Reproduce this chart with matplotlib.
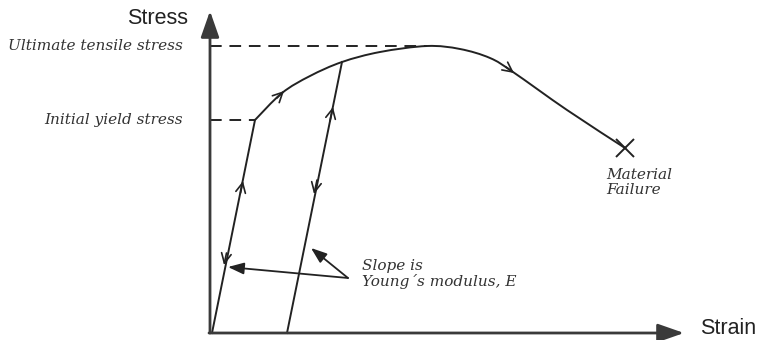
import matplotlib.pyplot as plt
from matplotlib.path import Path
from matplotlib.patches import PathPatch

# Stress-strain schematic, units are arbitrary (strain, stress)
curve_strain = [45, 72, 100, 132, 170, 217, 250, 280, 303, 357, 415]
curve_stress = [213, 240, 257, 271, 281, 287, 284, 275, 261, 223, 185]

elastic_strain = [2, 45]
elastic_stress = [0, 213]
unload_strain = [132, 77]
unload_stress = [271, 0]

uts = 287
yield_stress = 213
failure = (415, 185)

ink = "#222222"
axis_col = "#3a3a3a"
label_font = dict(family="DejaVu Serif", style="italic", size=11, color="#333333")

fig = plt.figure(figsize=(7.69, 3.40), dpi=100)
ax = fig.add_axes([0, 0, 1, 1])
ax.set_xlim(-210, 559)
ax.set_ylim(-7, 333)
ax.axis("off")

# axes with arrow heads
head = "-|>,head_length=0.8,head_width=0.28"
ax.annotate("", xy=(0, 322), xytext=(0, 0),
            arrowprops=dict(arrowstyle=head, mutation_scale=20, lw=2, color=axis_col, shrinkA=0, shrinkB=0))
ax.annotate("", xy=(474, 0), xytext=(-1, 0),
            arrowprops=dict(arrowstyle=head, mutation_scale=20, lw=2, color=axis_col, shrinkA=0, shrinkB=0))
ax.text(-22, 315, "Stress", ha="right", va="center", fontsize=15.5, family="Liberation Sans", color="#222222")
ax.text(490, 5, "Strain", ha="left", va="center", fontsize=15.5, family="Liberation Sans", color="#222222")

# reference stress levels
ax.plot([0, curve_strain[5]], [uts, uts], ls=(0, (6, 4)), lw=1.4, color=ink)
ax.plot([0, elastic_strain[1]], [yield_stress, yield_stress], ls=(0, (6, 4)), lw=1.4, color=ink)
ax.text(-27, uts, "Ultimate tensile stress", ha="right", va="center", **label_font)
ax.text(-27, yield_stress, "Initial yield stress", ha="right", va="center", **label_font)

# loading path and unloading line
ax.plot(elastic_strain, elastic_stress, lw=1.4, color=ink)
ax.plot(unload_strain, unload_stress, lw=1.4, color=ink)

# hardening/softening curve as a smooth Catmull-Rom spline through the points
pts = list(zip(curve_strain, curve_stress))
verts = [pts[0]]
codes = [Path.MOVETO]
for i in range(len(pts) - 1):
    p0 = pts[max(i - 1, 0)]
    p1, p2 = pts[i], pts[i + 1]
    p3 = pts[min(i + 2, len(pts) - 1)]
    c1 = (p1[0] + (p2[0] - p0[0]) / 6, p1[1] + (p2[1] - p0[1]) / 6)
    c2 = (p2[0] - (p3[0] - p1[0]) / 6, p2[1] - (p3[1] - p1[1]) / 6)
    verts += [c1, c2, p2]
    codes += [Path.CURVE4] * 3
ax.add_patch(PathPatch(Path(verts, codes), fill=False, lw=1.4, edgecolor=ink))
ax.plot(*failure, marker="x", ms=13, mew=1.4, color=ink)


def chevron(x0, y0, x1, y1):
    ax.annotate("", xy=(x1, y1), xytext=(x0, y0),
                arrowprops=dict(arrowstyle="->,head_length=0.5,head_width=0.25", mutation_scale=14,
                                lw=1.2, color=ink, shrinkA=0, shrinkB=0))


# direction markers along the paths
chevron(30.5, 140, 33, 152)
chevron(16.5, 80, 14, 68)
chevron(67, 235, 74, 242)
chevron(120, 212, 123, 226)
chevron(107, 153, 104, 139)
chevron(296, 266, 304, 260)

ax.text(396, 165, "Material\nFailure", ha="left", va="top", linespacing=1.05, **label_font)

# annotation pointing at both elastic slopes
ax.annotate("", xy=(18, 66), xytext=(138, 55),
            arrowprops=dict(arrowstyle="-|>,head_length=0.6,head_width=0.22", mutation_scale=16,
                            lw=1.3, color=ink, shrinkA=0, shrinkB=0))
ax.annotate("", xy=(101, 85), xytext=(138, 55),
            arrowprops=dict(arrowstyle="-|>,head_length=0.6,head_width=0.22", mutation_scale=16,
                            lw=1.3, color=ink, shrinkA=0, shrinkB=0))
ax.text(152, 59, "Slope is\nYoung\u00b4s modulus, E", ha="left", va="center", linespacing=1.1, **label_font)

fig.savefig("out.png", dpi=100)
